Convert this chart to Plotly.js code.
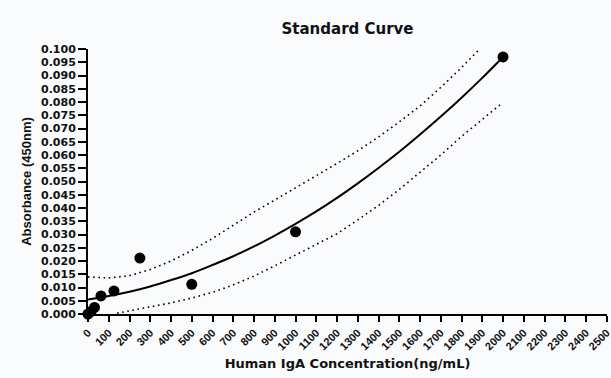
<!DOCTYPE html>
<html>
<head>
<meta charset="utf-8">
<script src="https://cdn.plot.ly/plotly-3.0.1.min.js"></script>
<style>html,body{margin:0;padding:0;background:#fafbfd;}#chart{width:611px;height:378px;}</style>
</head>
<body>
<div id="chart"></div>
<script>
// Measured standards
const concX = [0, 15.6, 31.25, 62.5, 125, 250, 500, 1000, 2000];
const absY  = [0.0000, 0.0010, 0.0025, 0.0068, 0.0087, 0.0211, 0.0112, 0.0310, 0.0970];

// Fitted curve
const fitX = [0, 100, 200, 300, 400, 500, 600, 700, 800, 900, 1000, 1100, 1200, 1300, 1400, 1500, 1600, 1700, 1800, 1900, 2000];
const fitY = [0.0055, 0.0068, 0.0084, 0.0104, 0.0128, 0.0154, 0.0185, 0.0218, 0.0255, 0.0296, 0.0340, 0.0387, 0.0438, 0.0493, 0.0551, 0.0612, 0.0677, 0.0745, 0.0816, 0.0891, 0.0970];

// Upper band
const upX = [0, 100, 200, 300, 400, 500, 600, 700, 800, 900, 1000, 1100, 1200, 1300, 1400, 1500, 1600, 1700, 1800, 1900];
const upY = [0.0140, 0.0136, 0.0145, 0.0168, 0.0200, 0.0240, 0.0285, 0.0335, 0.0385, 0.0430, 0.0475, 0.0520, 0.0568, 0.0616, 0.0668, 0.0725, 0.0785, 0.0855, 0.0930, 0.1010];

// Lower band
const loX = [140, 200, 300, 400, 500, 600, 700, 800, 900, 1000, 1100, 1200, 1300, 1400, 1500, 1600, 1700, 1800, 1900, 1985];
const loY = [0.0003, 0.0012, 0.0025, 0.0042, 0.0060, 0.0082, 0.0110, 0.0143, 0.0182, 0.0222, 0.0262, 0.0303, 0.0355, 0.0410, 0.0470, 0.0535, 0.0600, 0.0670, 0.0735, 0.0789];

const xTicks = [];
for (let v = 0; v <= 2500; v += 100) xTicks.push(v);
const yTicks = [];
for (let i = 0; i <= 20; i++) yTicks.push(+(i * 0.005).toFixed(3));
const yTickText = yTicks.map(v => v.toFixed(3));

const dotLine = {color: '#000', width: 1.6, dash: '1.6px,3.6px'};

const traces = [
  {x: upX, y: upY, mode: 'lines', line: dotLine, hoverinfo: 'skip'},
  {x: loX, y: loY, mode: 'lines', line: dotLine, hoverinfo: 'skip'},
  {x: fitX, y: fitY, mode: 'lines', line: {color: '#000', width: 2, shape: 'spline'}},
  {x: concX, y: absY, mode: 'markers', marker: {color: '#000', size: 11}, cliponaxis: false}
];

const layout = {
  width: 611, height: 378,
  margin: {l: 88, r: 4, t: 49, b: 64},
  paper_bgcolor: '#fafbfd',
  plot_bgcolor: '#fafbfd',
  showlegend: false,
  title: {
    text: '<b>Standard Curve</b>',
    font: {family: 'DejaVu Sans', size: 15, color: '#111'},
    x: 0.5688, xanchor: 'center', y: 0.925, yanchor: 'middle'
  },
  xaxis: {
    range: [0, 2501],
    tickmode: 'array', tickvals: xTicks, ticktext: xTicks.map(v => '<b>' + v + '</b>'),
    tickangle: -45,
    ticklabeloverflow: 'allow',
    tickfont: {family: 'Liberation Sans, Arial', size: 11, color: '#111'},
    ticks: 'outside', ticklen: 6, tickwidth: 2, tickcolor: '#000',
    showline: true, linecolor: '#000', linewidth: 2,
    showgrid: false, zeroline: false,
    title: {text: '<b>Human IgA Concentration(ng/mL)</b>', font: {family: 'DejaVu Sans', size: 13, color: '#111'}, standoff: 8}
  },
  yaxis: {
    range: [0, 0.1],
    tickmode: 'array', tickvals: yTicks, ticktext: yTickText.map(t => '<b>' + t + '</b>'),
    tickfont: {family: 'DejaVu Sans', size: 11, color: '#111'},
    ticks: 'outside', ticklen: 8, tickwidth: 2, tickcolor: '#000',
    showline: true, linecolor: '#000', linewidth: 2,
    showgrid: false, zeroline: false,
    title: {text: '<b>Absorbance (450nm)</b>', font: {family: 'Liberation Sans, Arial', size: 13, color: '#111'}, standoff: 6}
  }
};

Plotly.newPlot('chart', traces, layout, {displayModeBar: false, staticPlot: true});
</script>
</body>
</html>
